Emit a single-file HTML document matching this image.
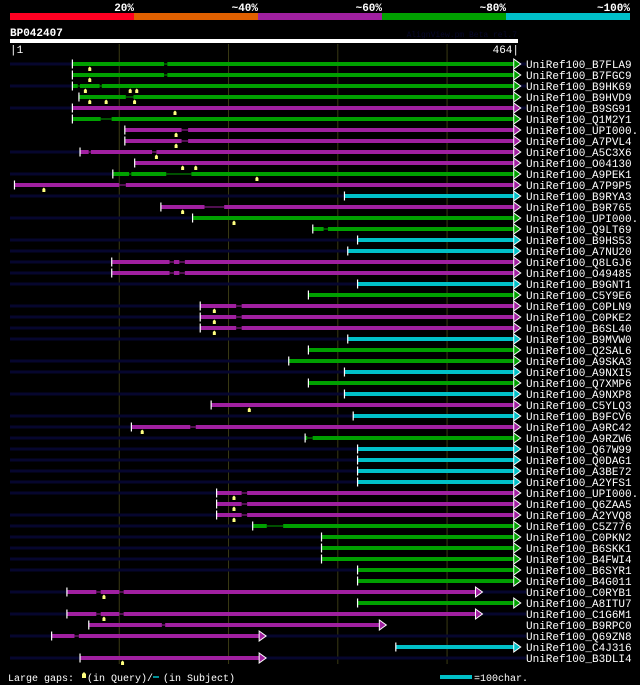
<!DOCTYPE html>
<html><head><meta charset="utf-8">
<style>
html,body{margin:0;padding:0;background:#000;width:640px;height:685px;overflow:hidden}
svg{display:block}
text{font-family:"Liberation Mono",monospace}
</style></head>
<body>
<svg id="chart" width="640" height="685" viewBox="0 0 640 685" xmlns="http://www.w3.org/2000/svg">
  <g>
    <rect x="10" y="13" width="124" height="7" fill="#ff0022"/>
    <rect x="134" y="13" width="124" height="7" fill="#e06000"/>
    <rect x="258" y="13" width="124" height="7" fill="#a020a0"/>
    <rect x="382" y="13" width="124" height="7" fill="#00a000"/>
    <rect x="506" y="13" width="124" height="7" fill="#00c0c8"/>
    <text x="134" y="11" text-anchor="end" fill="#fff" font-size="11" font-weight="bold">20%</text>
    <text x="258" y="11" text-anchor="end" fill="#fff" font-size="11" font-weight="bold">~40%</text>
    <text x="382" y="11" text-anchor="end" fill="#fff" font-size="11" font-weight="bold">~60%</text>
    <text x="506" y="11" text-anchor="end" fill="#fff" font-size="11" font-weight="bold">~80%</text>
    <text x="630" y="11" text-anchor="end" fill="#fff" font-size="11" font-weight="bold">~100%</text>
  </g>
  <text x="10" y="36" fill="#fff" font-size="11" font-weight="bold">BP042407</text>
  <text x="517" y="37" text-anchor="end" fill="#08082a" font-size="8">AlignView.pm Beta rel.7</text>
  <rect x="10" y="39" width="508" height="4" fill="#fff"/>
  <text x="10" y="53" fill="#fff" font-size="11">|1</text>
  <text x="519" y="53" text-anchor="end" fill="#fff" font-size="11">464|</text>
  <g id="grid"></g>
  <g id="rows"></g>
  <g>
    <text x="8" y="681" fill="#fff" font-size="10">Large gaps:</text>
    <path d="M82,674 l2,-2 l2,2 v4 h-4z" fill="#ffff80"/>
    <text x="87" y="681" fill="#fff" font-size="10">(in Query)/</text>
    <line x1="153" y1="677" x2="159" y2="677" stroke="#00c0c8" stroke-width="1.5"/>
    <text x="163" y="681" fill="#fff" font-size="10">(in Subject)</text>
    <rect x="440" y="675" width="32" height="4" fill="#00c0c8"/>
    <text x="474" y="681" fill="#fff" font-size="10">=100char.</text>
  </g>
</svg>
<script>
const queryLength = 464;
const gridTicks = [100, 200, 300, 400];
const labels = ["B7FLA9","B7FGC9","B9HK69","B9HVD9","B9SG91","Q1M2Y1","UPI000..","A7PVL4","A5C3X6","O04130","A9PEK1","A7P9P5","B9RYA3","B9R765","UPI000..","Q9LT69","B9HS53","A7NU20","Q8LGJ6","O49485","B9GNT1","C5Y9E6","C0PLN9","C0PKE2","B6SL40","B9MVW0","Q2SAL6","A9SKA3","A9NXI5","Q7XMP6","A9NXP8","C5YLQ3","B9FCV6","A9RC42","A9RZW6","Q67W99","Q0DAG1","A3BE72","A2YFS1","UPI000..","Q6ZAA5","A2YVQ8","C5Z776","C0PKN2","B6SKK1","B4FWI4","B6SYR1","B4G011","C0RYB1","A8ITU7","C1G6M1","B9RPC0","Q69ZN8","C4J316","B3DLI4"];
const starts = [57,57,57,63,57,57,105,105,64,114,94,4,306,138,167,277,318,309,93,93,318,273,174,174,174,309,273,255,306,273,306,184,314,111,270,318,318,318,318,189,189,189,222,285,285,285,318,318,52,318,52,72,38,353,64];
const ends = [461,461,461,461,461,461,461,461,461,461,461,461,461,461,461,461,461,461,461,461,461,461,461,461,461,461,461,461,461,461,461,461,461,461,461,461,461,461,461,461,461,461,461,461,461,461,461,461,426,461,426,338,228,461,228];
// identity class: 2=~60% magenta, 3=~80% green, 4=~100% cyan
const identity = [3,3,3,3,2,3,2,2,2,2,3,2,4,2,3,3,4,4,2,2,4,3,2,2,2,4,3,3,4,3,4,2,4,2,3,4,4,4,4,2,2,2,3,3,3,3,3,3,2,3,2,2,2,4,2];
const subjectBefore = [1,0,1,0,1,0,0,0,1,0,1,0,1,0,1,0,1,1,1,1,1,0,1,1,1,1,0,1,1,0,1,0,1,1,1,1,1,1,1,1,0,1,1,1,1,1,1,0,1,0,1,0,1,0,1];
const subjectAfter = [1,0,1,0,1,0,0,0,0,0,0,0,0,0,0,0,0,0,0,0,0,0,0,0,0,0,0,0,0,0,0,0,0,0,0,0,0,0,0,0,0,0,0,0,0,0,0,0,1,0,1,0,1,0,1];
const subjectGaps = [[[141,144]],[[141,144]],[[62,64],[82,84]],[[106,113]],[],[[83,93]],[[157,163]],[[157,163]],[[72,74],[130,134]],[],[[109,111],[143,166]],[[100,106]],[],[[178,196]],[],[[287,291]],[],[],[[146,150],[155,160]],[[146,150],[155,160]],[],[],[[207,212]],[[207,212]],[[207,212]],[],[],[],[],[],[],[],[],[[165,170]],[[272,277]],[],[],[],[],[[212,217]],[[212,217]],[[212,217]],[[235,250]],[],[],[],[],[],[[79,83],[100,104]],[],[[79,83],[100,104]],[[139,142]],[[59,63]],[],[]];
const queryGaps = [[73],[73],[69,110,116],[73,88,114],[151],[],[152],[152],[134],[158,170],[226],[31],[],[158],[205],[],[],[],[],[],[],[],[187],[187],[187],[],[],[],[],[],[],[219],[],[121],[],[],[],[],[],[205],[205],[205],[],[],[],[],[],[],[86],[],[86],[],[],[],[103]];
const colorsByClass = ["#ff0022","#e06000","#a020a0","#00a000","#00c0c8"];

const NS = "http://www.w3.org/2000/svg";
const x0 = 10, scale = 507 / queryLength;
const xs = r => x0 + r * scale;
const rowY = i => 64 + i * 11;
function mk(tag, attrs, parent){const e=document.createElementNS(NS,tag);for(const k in attrs)e.setAttribute(k,attrs[k]);parent.appendChild(e);return e;}

const grid = document.getElementById('grid');


gridTicks.forEach(t=>{
  const l = mk('line',{x1:xs(t),x2:xs(t),y1:44,y2:664,stroke:'#3a3a14','stroke-width':1},grid);
  
  
});

const rowsG = document.getElementById('rows');
labels.forEach((lab,i)=>{
  const y = rowY(i);
  const g = mk('g',{},rowsG);
  
  
  const sx = xs(starts[i]), ex = xs(ends[i]);
  const col = colorsByClass[identity[i]];
  if (subjectBefore[i]) mk('rect',{x:10,y:y-1.5,width:sx-10,height:3,fill:'#06062e'},g);
  if (subjectAfter[i]) mk('rect',{x:ex,y:y-1.5,width:526-ex,height:3,fill:'#06062e'},g);
  let cur = sx;
  subjectGaps[i].forEach(gp=>{
    const a = xs(gp[0]), b = xs(gp[1]);
    mk('rect',{x:cur,y:y-2,width:Math.max(0,a-cur),height:4,fill:col},g);
    mk('rect',{x:a,y:y-0.5,width:b-a,height:1,fill:col},g);
    cur = b;
  });
  const bar = mk('rect',{x:cur,y:y-2,width:Math.max(0,ex-cur),height:4,fill:col},g);
  
  
  mk('rect',{x:sx-0.5,y:y-4.5,width:1.2,height:9,fill:'#fff'},g);
  mk('path',{d:`M${ex},${y-5} L${ex+7},${y} L${ex},${y+5} Z`,fill:col,stroke:'#fff','stroke-width':1},g);
  queryGaps[i].forEach(q=>{
    const qx = xs(q);
    mk('path',{d:`M${qx-1.5},${y+4} l1.5,-1.5 l1.5,1.5 v3 h-3z`,fill:'#ffff80'},g);
  });
  const t = mk('text',{x:526,y:y+4,fill:'#fff','font-size':11},g);
  t.textContent = 'UniRef100_'+lab;
  
  
});
</script>
</body></html>
